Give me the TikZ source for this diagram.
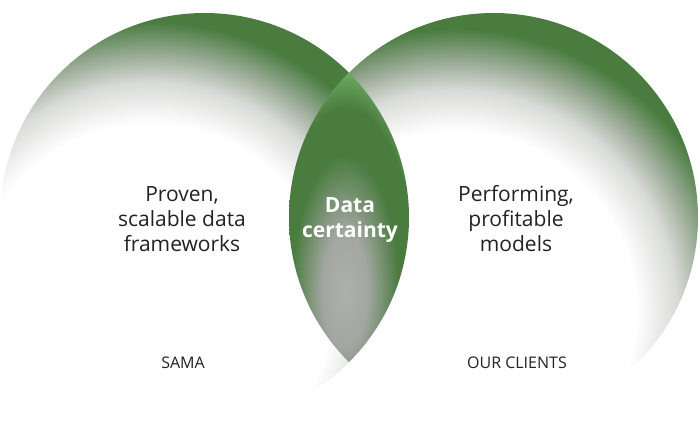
\documentclass[tikz,border=0pt]{standalone}
\usepackage{fontspec}
\setmainfont{Open Sans}

\definecolor{vert}{HTML}{4A7C40}
\definecolor{vertclair}{HTML}{6AA85E}
\definecolor{grisclair}{HTML}{D9DBD8}
\definecolor{grisvert}{HTML}{9AAB96}
\definecolor{grislentille}{HTML}{ADB1AB}
\definecolor{texte}{HTML}{222222}

% Dégradés des cercles et de l'intersection
\pgfdeclareradialshading{cercle}{\pgfpoint{0bp}{0bp}}{color(0bp)=(white); color(13.3bp)=(white); color(16.3bp)=(grisclair); color(18.4bp)=(grisvert); color(20.8bp)=(vert); color(25bp)=(vert); color(50bp)=(vert)}
\pgfdeclareradialshading{lentille}{\pgfpoint{0bp}{0bp}}{color(0bp)=(grislentille); color(6bp)=(grislentille!94!black); color(14bp)=(vert); color(19bp)=(vert); color(22.5bp)=(vertclair); color(25bp)=(vertclair); color(50bp)=(vertclair)}

\tikzset{
  texteg/.style={font=\fontsize{21}{25}\selectfont, text=texte, align=center, inner sep=0pt},
  textec/.style={font=\fontsize{21}{25}\selectfont\bfseries, text=white, align=center, inner sep=0pt},
  etiquette/.style={font=\fontsize{16}{19}\selectfont, text=texte, inner sep=0pt, anchor=base}
}

\begin{document}
\begin{tikzpicture}[x=1pt, y=-1pt]
		\useasboundingbox (0,0) rectangle (700,436);
		
		% Cercle de gauche
		\begin{scope}
			\clip (204.5,217.5) circle [radius=204.5pt];
			\shade[shading=cercle] (150,305) circle [radius=340pt];
		\end{scope}
		
		% Cercle de droite
		\begin{scope}
			\clip (493.5,217.5) circle [radius=204.5pt];
			\shade[shading=cercle] (455,312) circle [radius=340pt];
		\end{scope}
		
		% Intersection
		\begin{scope}
			\clip (204.5,217.5) circle [radius=204.5pt];
			\clip (493.5,217.5) circle [radius=204.5pt];
			\shade[shading=lentille] (345,290) ellipse [x radius=95pt, y radius=240pt];
		\end{scope}
		
		% Création des nœuds
		\node[texteg] (cadres) at (182,219) {Proven,\\scalable data\\frameworks};
		\node[texteg] (modeles) at (516,218.5) {Performing,\\profitable\\models};
		\node[textec] (certitude) at (350,220.5) {Data\\certainty};
		\node[etiquette] (sama) at (183,368) {SAMA};
		\node[etiquette] (clients) at (517,368) {OUR CLIENTS};
	\end{tikzpicture}
\end{document}
